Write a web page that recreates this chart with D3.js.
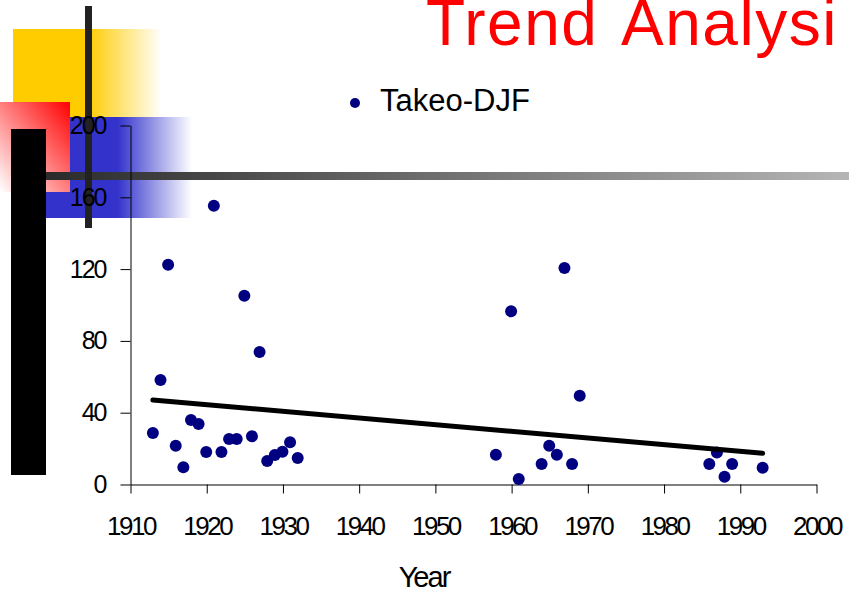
<!DOCTYPE html>
<html>
<head>
<meta charset="utf-8">
<script src="https://cdn.jsdelivr.net/npm/d3@7"></script>
<style>
    body { margin: 0; background: #fff; }
    svg { display: block; font-family: "Liberation Sans", Arial, sans-serif; }
</style>
</head>
<body>
<svg width="849" height="593"></svg>
<script>
// values
const years = [1913, 1914, 1915, 1916, 1917, 1918, 1919, 1920, 1921, 1922,
    1923, 1924, 1925, 1926, 1927, 1928, 1929, 1930, 1931, 1932,
    1958, 1960, 1961, 1964, 1965, 1966, 1967, 1968, 1969,
    1986, 1987, 1988, 1989, 1993];
const rainfall = [28.4, 57.9, 122.2, 21.3, 9.3, 35.7, 33.4, 17.8, 155.0, 17.8,
    25.1, 25.1, 104.9, 26.6, 73.5, 12.8, 16.2, 18.0, 23.2, 14.5,
    16.3, 96.2, 2.8, 11.1, 21.3, 16.3, 120.3, 11.1, 49.2,
    11.1, 17.6, 4.1, 11.1, 9.1];
const trendYears = [1913, 1993];
const trendValues = [46.8, 17.1];
const xTicks = [1910, 1920, 1930, 1940, 1950, 1960, 1970, 1980, 1990, 2000];
const yTicks = [0, 40, 80, 120, 160, 200];
const seriesName = "Takeo-DJF";

const svg = d3.select("svg");

function drawBackground() {
    const defs = svg.append("defs");
    function hGrad(id, stops) {
        const g = defs.append("linearGradient").attr("id", id);
        stops.forEach(s => g.append("stop")
            .attr("offset", s[0]).attr("stop-color", s[1]).attr("stop-opacity", s[2]));
    }
    hGrad("yellowGrad", [[0, "#ffcc00", 1], [0.5, "#ffcc00", 1], [1, "#ffcc00", 0]]);
    hGrad("blueGrad", [[0, "#3333cc", 1], [0.49, "#3333cc", 1], [1, "#3333cc", 0]]);
    hGrad("barGrad", [[0, "#2b2b2b", 1], [1, "#b5b5b5", 1]]);
    const red = defs.append("linearGradient").attr("id", "redGrad")
        .attr("x1", 1).attr("y1", 0).attr("x2", 0).attr("y2", 1);
    red.append("stop").attr("offset", 0).attr("stop-color", "#ff0000");
    red.append("stop").attr("offset", 1).attr("stop-color", "#ffffff");
    // the slide's title box ends before the last letter
    defs.append("clipPath").attr("id", "titleClip")
        .append("rect").attr("x", 0).attr("y", 0).attr("width", 840).attr("height", 100);

    svg.append("rect").attr("x", 13).attr("y", 29).attr("width", 149).attr("height", 88)
        .attr("fill", "url(#yellowGrad)");
    svg.append("rect").attr("x", 46).attr("y", 117).attr("width", 146).attr("height", 101)
        .attr("fill", "url(#blueGrad)");
    svg.append("rect").attr("x", 0).attr("y", 102).attr("width", 70).attr("height", 90)
        .attr("fill", "url(#redGrad)");
    svg.append("rect").attr("x", 11).attr("y", 129).attr("width", 35).attr("height", 346)
        .attr("fill", "#000");
    svg.append("rect").attr("x", 46).attr("y", 172).attr("width", 803).attr("height", 8)
        .attr("fill", "url(#barGrad)");
    svg.append("rect").attr("x", 85).attr("y", 6).attr("width", 7).attr("height", 222)
        .attr("fill", "#222");

    svg.append("text")
        .attr("x", 426)
        .attr("y", 45)
        .attr("clip-path", "url(#titleClip)")
        .attr("letter-spacing", "1.5px")
        .attr("word-spacing", "7px")
        .text("Trend Analysis")
        .attr("font-size", "64px")
        .attr("fill", "#ff0000");
}

function drawChart() {
    const x = d3.scaleLinear().domain([1910, 2000]).range([130, 816]);
    const y = d3.scaleLinear().domain([0, 200]).range([484, 125]);

    const yAxis = svg.append("g")
        .attr("transform", "translate(130.5, 0.5)")
        .call(d3.axisLeft(y).tickValues(yTicks).tickSize(10).tickSizeOuter(0).tickPadding(15));
    yAxis.selectAll("text")
        .attr("font-size", "25px")
        .attr("letter-spacing", "-2px")
        .attr("font-family", "Liberation Sans, Arial, sans-serif")
        .attr("fill", "#000");

    const xAxis = svg.append("g")
        .attr("transform", "translate(0.5, 484.5)")
        .call(d3.axisBottom(x).tickValues(xTicks).tickFormat(d3.format("d"))
            .tickSize(9).tickSizeOuter(0).tickPadding(23));
    xAxis.selectAll("text")
        .attr("font-size", "26px")
        .attr("letter-spacing", "-2.5px")
        .attr("font-family", "Liberation Sans, Arial, sans-serif")
        .attr("fill", "#000");
    svg.selectAll(".domain, .tick line").attr("stroke", "#000");

    svg.append("g")
        .selectAll("circle").data(years).enter()
        .append("circle")
        .attr("cx", function(d) { return x(d); })
        .attr("cy", function(d, i) { return y(rainfall[i]); })
        .attr("r", 6)
        .attr("fill", "#000080");

    svg.append("path")
        .datum(trendYears)
        .attr("d", d3.line()
            .x(function(d) { return x(d); })
            .y(function(d, i) { return y(trendValues[i]); }))
        .attr("stroke", "#000")
        .attr("stroke-width", 5)
        .attr("stroke-linecap", "round")
        .attr("fill", "none");

    svg.append("text")
        .attr("x", 424)
        .attr("y", 587)
        .attr("text-anchor", "middle")
        .attr("letter-spacing", "-2px")
        .text("Year")
        .attr("font-size", "29px");
}

function drawLegend() {
    svg.append("circle")
        .attr("cx", 355)
        .attr("cy", 103)
        .attr("r", 5)
        .attr("fill", "#000080");
    svg.append("text")
        .attr("x", 380)
        .attr("y", 111)
        .text(seriesName)
        .attr("font-size", "31px");
}

drawBackground();
drawChart();
drawLegend();
</script>
</body>
</html>
